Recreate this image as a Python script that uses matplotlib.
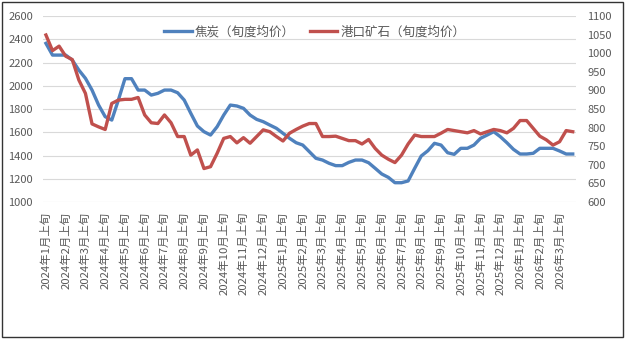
import numpy as np
import matplotlib
matplotlib.use("Agg")
import matplotlib.pyplot as plt
from matplotlib.patches import Rectangle

plt.rcParams['font.family'] = ['Noto Sans CJK SC', 'DejaVu Sans']

# dekad averages, 2024年1月上旬 .. 2026年3月下旬 (81 points)
coke = [2365, 2264, 2264, 2264, 2221, 2135, 2064, 1963, 1834, 1734,
        1705, 1877, 2061, 2061, 1963, 1963, 1920, 1935, 1963, 1963,
        1940, 1877, 1763, 1654, 1605, 1576, 1648, 1748, 1834, 1826,
        1806, 1748, 1711, 1691, 1662, 1634, 1591, 1548, 1510, 1490,
        1433, 1376, 1361, 1333, 1313, 1313, 1341, 1361, 1361, 1338,
        1290, 1241, 1212, 1166, 1166, 1181, 1290, 1396, 1441, 1505,
        1490, 1424, 1410, 1462, 1462, 1490, 1548, 1576, 1605, 1562,
        1510, 1453, 1413, 1413, 1419, 1462, 1462, 1462, 1439, 1413,
        1413]
ore = [1049, 1007, 1019, 992, 983, 928, 892, 810, 802, 795,
       865, 874, 876, 876, 881, 834, 813, 811, 834, 813,
       776, 776, 726, 740, 690, 695, 731, 771, 776, 759,
       773, 758, 776, 794, 789, 776, 764, 785, 795, 804,
       811, 811, 776, 776, 777, 771, 765, 765, 756, 768,
       744, 726, 715, 706, 726, 756, 780, 776, 776, 776,
       785, 795, 792, 789, 786, 792, 783, 789, 795, 792,
       786, 798, 819, 819, 798, 777, 767, 753, 762, 792,
       789]

month_labels = ['2024年1月上旬', '2024年2月上旬', '2024年3月上旬', '2024年4月上旬',
                '2024年5月上旬', '2024年6月上旬', '2024年7月上旬', '2024年8月上旬',
                '2024年9月上旬', '2024年10月上旬', '2024年11月上旬', '2024年12月上旬',
                '2025年1月上旬', '2025年2月上旬', '2025年3月上旬', '2025年4月上旬',
                '2025年5月上旬', '2025年6月上旬', '2025年7月上旬', '2025年8月上旬',
                '2025年9月上旬', '2025年10月上旬', '2025年11月上旬', '2025年12月上旬',
                '2026年1月上旬', '2026年2月上旬', '2026年3月上旬']

blue = '#4F81BD'
red = '#C0504D'
txt = '#595959'

fig = plt.figure(figsize=(6.27, 3.41), dpi=100)
ax = fig.add_axes([0.068, 0.4076, 0.8507, 0.5454])
ax2 = ax.twinx()

x = np.arange(len(coke))
l1, = ax.plot(x, coke, color=blue, lw=2.4, label='焦炭（旬度均价）', zorder=3)
l2, = ax2.plot(x, ore, color=red, lw=2.4, label='港口矿石（旬度均价）', zorder=3)

ax.set_xlim(-0.5, len(coke) - 0.5)
ax.set_ylim(1000, 2600)
ax.set_yticks(np.arange(1000, 2601, 200))
ax2.set_ylim(600, 1100)
ax2.set_yticks(np.arange(600, 1101, 50))

ax.set_xticks(np.arange(0, len(coke), 3))
ax.set_xticklabels(month_labels, rotation=90, va='top', ha='center')

ax.grid(axis='y', color='#D9D9D9', lw=0.8)
ax.set_axisbelow(True)
for a in (ax, ax2):
    for s in a.spines.values():
        s.set_visible(False)
ax.tick_params(axis='both', length=0, colors=txt, labelsize=8)
ax.tick_params(axis='x', labelsize=8.2, pad=7)
ax.tick_params(axis='y', pad=7)
ax2.tick_params(axis='y', length=0, colors=txt, labelsize=8, pad=8)

ax.legend(handles=[l1, l2], loc='center', bbox_to_anchor=(0.51, 0.914),
          ncol=2, frameon=False, fontsize=9, handlelength=2.2,
          handletextpad=0.25, columnspacing=1.2, labelcolor=txt)

fig.patches.append(Rectangle((1.5 / 627, 4 / 341), 621.5 / 627, 335.5 / 341,
                             transform=fig.transFigure, fill=False,
                             edgecolor='#333333', lw=1.0))

fig.savefig('out.png', dpi=100)
